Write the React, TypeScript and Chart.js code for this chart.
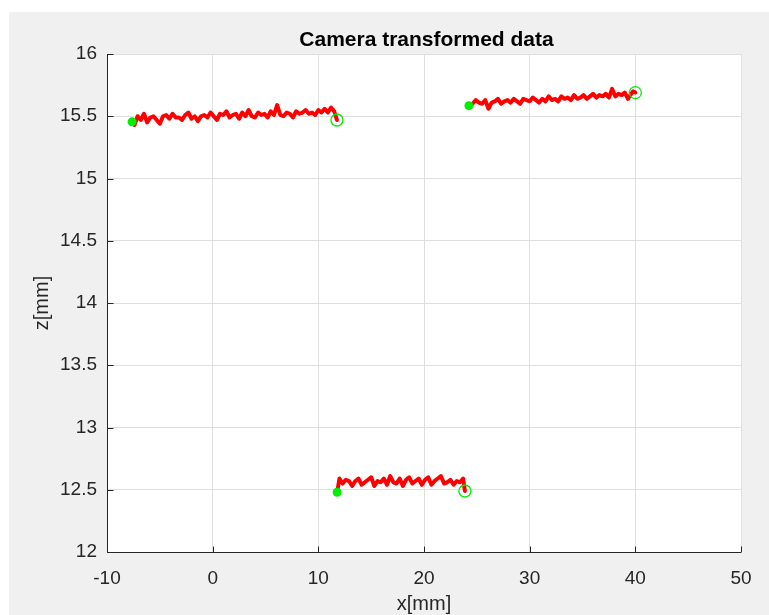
import React, { useEffect, useRef } from 'react';
import { Chart, registerables } from 'chart.js';

Chart.register(...registerables);

// ---- data (x [mm], z [mm]) ----
const seg1: [number, number][] = [
  [-7.63, 15.455],
  [-7.4, 15.43], [-7.1, 15.5], [-6.8, 15.47], [-6.5, 15.52], [-6.2, 15.45], [-5.9, 15.49],
  [-5.6, 15.5], [-5.3, 15.47], [-5.0, 15.44], [-4.7, 15.5], [-4.4, 15.51], [-4.1, 15.48],
  [-3.8, 15.52], [-3.5, 15.49], [-3.2, 15.49], [-2.9, 15.47], [-2.6, 15.51], [-2.3, 15.53],
  [-2.0, 15.48], [-1.7, 15.5], [-1.4, 15.46], [-1.1, 15.5], [-0.8, 15.51], [-0.5, 15.49],
  [-0.2, 15.53], [0.1, 15.5], [0.4, 15.47], [0.7, 15.52], [1.0, 15.51], [1.3, 15.54],
  [1.6, 15.49], [1.9, 15.51], [2.2, 15.52], [2.5, 15.48], [2.8, 15.53], [3.1, 15.5],
  [3.4, 15.55], [3.7, 15.5], [4.0, 15.49], [4.3, 15.53], [4.6, 15.51], [4.9, 15.52],
  [5.2, 15.49], [5.5, 15.54], [5.8, 15.51], [6.1, 15.59], [6.4, 15.51], [6.7, 15.5],
  [7.0, 15.53], [7.3, 15.52], [7.6, 15.49], [7.9, 15.54], [8.2, 15.52], [8.5, 15.53],
  [8.8, 15.55], [9.1, 15.52], [9.4, 15.53], [9.7, 15.51], [10.0, 15.55], [10.3, 15.53],
  [10.6, 15.56], [10.9, 15.53], [11.2, 15.57], [11.5, 15.54],
  [11.76, 15.47],
];

const seg2: [number, number][] = [
  [24.25, 15.585],
  [24.6, 15.6], [24.9, 15.63], [25.2, 15.61], [25.5, 15.6], [25.8, 15.63], [26.1, 15.56],
  [26.4, 15.61], [26.7, 15.62], [27.0, 15.64], [27.3, 15.6], [27.6, 15.62], [27.9, 15.63],
  [28.2, 15.61], [28.5, 15.64], [28.8, 15.62], [29.1, 15.6], [29.4, 15.64], [29.7, 15.63],
  [30.0, 15.62], [30.3, 15.65], [30.6, 15.63], [30.9, 15.61], [31.2, 15.64], [31.5, 15.62],
  [31.8, 15.66], [32.1, 15.63], [32.4, 15.64], [32.7, 15.62], [33.0, 15.66], [33.3, 15.64],
  [33.6, 15.65], [33.9, 15.63], [34.2, 15.67], [34.5, 15.64], [34.8, 15.65], [35.1, 15.67],
  [35.4, 15.64], [35.7, 15.66], [36.0, 15.68], [36.3, 15.65], [36.6, 15.67], [36.9, 15.66],
  [37.2, 15.68], [37.5, 15.65], [37.8, 15.72], [38.1, 15.66], [38.4, 15.68], [38.7, 15.67],
  [39.0, 15.69], [39.3, 15.64], [39.6, 15.68], [39.8, 15.7],
  [40.0, 15.69],
];

const seg3: [number, number][] = [
  [11.78, 12.48],
  [12.0, 12.59], [12.3, 12.55], [12.6, 12.58], [12.9, 12.57], [13.2, 12.53], [13.5, 12.57],
  [13.8, 12.59], [14.1, 12.54], [14.4, 12.56], [14.7, 12.58], [15.0, 12.6], [15.3, 12.53],
  [15.6, 12.57], [15.9, 12.56], [16.2, 12.59], [16.5, 12.54], [16.8, 12.61], [17.1, 12.56],
  [17.4, 12.55], [17.7, 12.59], [18.0, 12.53], [18.3, 12.58], [18.6, 12.6], [18.9, 12.55],
  [19.2, 12.57], [19.5, 12.59], [19.8, 12.54], [20.1, 12.58], [20.4, 12.6], [20.7, 12.54],
  [21.0, 12.57], [21.3, 12.59], [21.6, 12.61], [21.9, 12.55], [22.2, 12.56], [22.5, 12.58],
  [22.8, 12.54], [23.1, 12.57], [23.4, 12.56], [23.7, 12.59],
  [23.87, 12.49],
];

const segments = [seg1, seg2, seg3];

const titleText = 'Camera transformed data';
const xLabel = 'x[mm]';
const yLabel = 'z[mm]';
const xMin = -10;
const xMax = 50;
const xStep = 10;
const yMin = 12;
const yMax = 16;
const yStep = 0.5;

const FONT = '"Liberation Sans", Arial, Helvetica, sans-serif';
const AXIS = '#262626';
const GRID = '#dfdfdf';
const RED = '#ff0000';
const GREEN = '#00ee00';

const toPts = (s: [number, number][]) => s.map(([x, y]) => ({ x, y }));

const plotBackground = {
  id: 'plotBackground',
  beforeDraw(chart: any) {
    const { ctx, chartArea: a } = chart;
    ctx.save();
    ctx.fillStyle = '#ffffff';
    ctx.fillRect(a.left, a.top, a.right - a.left, a.bottom - a.top);
    ctx.restore();
  },
};

const matlabAxes = {
  id: 'matlabAxes',
  afterDraw(chart: any) {
    const { ctx, chartArea: a, scales } = chart;
    ctx.save();
    ctx.strokeStyle = AXIS;
    ctx.lineWidth = 1;
    ctx.beginPath();
    const L = Math.round(a.left) + 0.5;
    const B = Math.round(a.bottom) + 0.5;
    ctx.moveTo(L, a.top);
    ctx.lineTo(L, B);
    ctx.lineTo(a.right, B);
    scales.x.ticks.forEach((t: any) => {
      const px = Math.round(scales.x.getPixelForValue(t.value)) + 0.5;
      ctx.moveTo(px, B);
      ctx.lineTo(px, B - 6);
    });
    scales.y.ticks.forEach((t: any) => {
      const py = Math.round(scales.y.getPixelForValue(t.value)) + 0.5;
      ctx.moveTo(L, py);
      ctx.lineTo(L + 6, py);
    });
    ctx.stroke();

    // title
    ctx.fillStyle = '#000';
    ctx.font = `bold 21px ${FONT}`;
    ctx.textAlign = 'center';
    ctx.textBaseline = 'alphabetic';
    ctx.fillText(titleText, (a.left + a.right) / 2 + 2.5, 33.5);

    // axis labels
    ctx.fillStyle = AXIS;
    ctx.font = `20px ${FONT}`;
    ctx.fillText(xLabel, (a.left + a.right) / 2, 598);
    ctx.save();
    ctx.translate(39, (a.top + a.bottom) / 2);
    ctx.rotate(-Math.PI / 2);
    ctx.fillText(yLabel, 0, 0);
    ctx.restore();
    ctx.restore();
  },
};

export default function App() {
  const ref = useRef<HTMLCanvasElement | null>(null);

  useEffect(() => {
    if (!ref.current) return;
    const lineSets = segments.map((s, i) => ({
      type: 'line' as const,
      label: `segment ${i + 1}`,
      data: toPts(s),
      borderColor: RED,
      backgroundColor: RED,
      borderWidth: 4,
      borderJoinStyle: 'round' as const,
      borderCapStyle: 'round' as const,
      pointRadius: 0,
      fill: false,
      tension: 0,
      order: 2,
    }));
    const startSet = {
      type: 'scatter' as const,
      label: 'start',
      data: segments.map((s) => ({ x: s[0][0], y: s[0][1] })),
      pointRadius: 4.5,
      pointBackgroundColor: GREEN,
      pointBorderColor: GREEN,
      pointBorderWidth: 0,
      showLine: false,
      order: 0,
    };
    const endSet = {
      type: 'scatter' as const,
      label: 'end',
      data: segments.map((s) => ({ x: s[s.length - 1][0], y: s[s.length - 1][1] })),
      pointRadius: 6,
      pointBackgroundColor: 'rgba(0,0,0,0)',
      pointBorderColor: GREEN,
      pointBorderWidth: 1.3,
      showLine: false,
      order: 1,
    };

    const chart = new Chart(ref.current, {
      type: 'line',
      data: { datasets: [...lineSets, startSet, endSet] as any },
      options: {
        responsive: false,
        animation: false,
        devicePixelRatio: 1,
        layout: { padding: { left: 0, top: 42, right: 28, bottom: 0 } },
        plugins: {
          legend: { display: false },
          title: { display: false },
          tooltip: { enabled: false },
        },
        scales: {
          x: {
            type: 'linear',
            min: xMin,
            max: xMax,
            ticks: {
              stepSize: xStep,
              color: AXIS,
              font: { family: FONT, size: 19 },
              padding: 15,
              maxRotation: 0,
              callback: (v: any) => `${+Number(v).toFixed(2)}`,
            },
            grid: { color: GRID, drawTicks: false, lineWidth: 1 },
            border: { display: false },
            afterFit: (s: any) => {
              s.height = 63;
            },
          },
          y: {
            type: 'linear',
            min: yMin,
            max: yMax,
            ticks: {
              stepSize: yStep,
              color: AXIS,
              font: { family: FONT, size: 19 },
              padding: 10,
              callback: (v: any) => `${+Number(v).toFixed(2)}`,
            },
            grid: { color: GRID, drawTicks: false, lineWidth: 1 },
            border: { display: false },
            afterFit: (s: any) => {
              s.width = 98;
            },
          },
        },
      },
      plugins: [plotBackground, matlabAxes],
    });
    return () => chart.destroy();
  }, []);

  return (
    <div
      style={{
        position: 'fixed',
        left: 9,
        top: 12,
        width: 760,
        height: 603,
        background: '#f0f0f0',
      }}
    >
      <canvas
        ref={ref}
        width={760}
        height={603}
        style={{ display: 'block', width: 760, height: 603 }}
      />
    </div>
  );
}
